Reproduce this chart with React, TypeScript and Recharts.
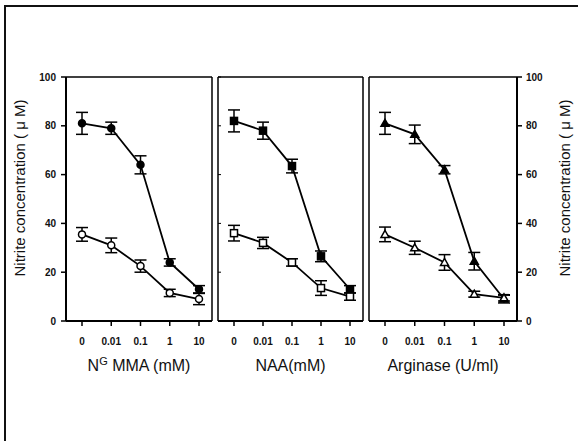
import React from 'react';
import { LineChart, Line, XAxis, YAxis, ErrorBar, Label } from 'recharts';

const doses = ['0', '0.01', '0.1', '1', '10'];
const yTicks = [0, 20, 40, 60, 80, 100];

// N(G)MMA panel
const ngmmaStim = [81, 79, 64, 24, 13];
const ngmmaStimErr = [4.5, 2.5, 3.7, 1.5, 1.5];
const ngmmaBase = [35.5, 31, 22.5, 11.5, 9];
const ngmmaBaseErr = [2.8, 3, 2.5, 1.5, 2.3];

// NAA panel
const naaStim = [82, 78, 63.5, 26.5, 13];
const naaStimErr = [4.5, 3.5, 2.8, 2.2, 1.5];
const naaBase = [36, 32, 24, 13.5, 10];
const naaBaseErr = [3.2, 2.3, 1.5, 3, 1.5];

// Arginase panel
const argStim = [81, 76.5, 62, 24.5, 9];
const argStimErr = [4.5, 3.8, 1.7, 3.6, 1.6];
const argBase = [35.5, 30, 24, 11, 9.5];
const argBaseErr = [3, 2.7, 3.2, 1.2, 1.3];

const yTitle = 'Nitrite concentration ( \u03bc M)';
const font = '"Liberation Sans", Arial, Helvetica, sans-serif';

const build = (stim: number[], stimErr: number[], base: number[], baseErr: number[]) =>
  doses.map((dose, i) => ({ dose, stim: stim[i], stimErr: stimErr[i], base: base[i], baseErr: baseErr[i] }));

type Shape = 'circle' | 'square' | 'triangle';

const Marker = ({ cx, cy, shape, filled }: { cx: number; cy: number; shape: Shape; filled: boolean }) => {
  const fill = filled ? '#000' : '#fff';
  if (shape === 'circle') return <circle cx={cx} cy={cy} r={3.5} fill={fill} stroke="#000" strokeWidth={1.5} />;
  if (shape === 'square')
    return <rect x={cx - 3.5} y={cy - 3.5} width={7} height={7} fill={fill} stroke="#000" strokeWidth={1.5} />;
  return (
    <polygon
      points={`${cx},${cy - 4} ${cx + 4},${cy + 3} ${cx - 4},${cy + 3}`}
      fill={fill}
      stroke="#000"
      strokeWidth={1.5}
    />
  );
};

const titleContent = (main: string, sup: string, rest: string) => (props: any) => {
  const vb = props.viewBox || {};
  const cx = vb.x + vb.width / 2;
  return (
    <text x={cx} y={vb.y + 50} textAnchor="middle" fontSize={16} fontFamily={font} fill="#111">
      <tspan>{main}</tspan>
      {sup ? (
        <tspan dy={-6} fontSize={11}>
          {sup}
        </tspan>
      ) : null}
      <tspan dy={sup ? 6 : 0}>{rest}</tspan>
    </text>
  );
};

// vertical axis title, centred a little above the middle of the plot
const yTitleContent = (side: 'left' | 'right') => (props: any) => {
  const vb = props.viewBox || {};
  const x = side === 'left' ? vb.x + 11 : vb.x + vb.width - 14;
  const y = vb.y + vb.height / 2 - 11;
  return (
    <text
      x={x}
      y={y}
      transform={`rotate(-90 ${x} ${y})`}
      textAnchor="middle"
      dominantBaseline="central"
      fontSize={15}
      fontFamily={font}
      fill="#111"
    >
      {yTitle}
    </text>
  );
};

interface PanelProps {
  left: number;
  width: number;
  margin: { top: number; right: number; bottom: number; left: number };
  data: ReturnType<typeof build>;
  shape: Shape;
  leftMode: 'axis' | 'frame' | 'frameTicks';
  rightMode: 'axis' | 'frame';
  leftWidth: number;
  rightWidth: number;
  title: [string, string, string];
}

const tickStyle = { fontSize: 10, fontWeight: 700, fill: '#111', fontFamily: font };
const pad = { left: 16, right: 13 };
const blank = () => '';

const Panel = ({ left, width, margin, data, shape, leftMode, rightMode, leftWidth, rightWidth, title }: PanelProps) => (
  <div style={{ position: 'absolute', left, top: 0 }}>
    <LineChart width={width} height={441} data={data} margin={margin}>
      <XAxis
        dataKey="dose"
        interval={0}
        padding={pad}
        height={60}
        tickSize={5}
        tickMargin={12}
        tick={tickStyle}
        axisLine={{ stroke: '#000', strokeWidth: 2 }}
        tickLine={{ stroke: '#000', strokeWidth: 1.5 }}
      >
        <Label content={titleContent(title[0], title[1], title[2])} />
      </XAxis>
      <XAxis
        xAxisId="top"
        orientation="top"
        dataKey="dose"
        interval={0}
        padding={pad}
        height={1}
        tickFormatter={blank}
        tickLine={false}
        axisLine={{ stroke: '#000', strokeWidth: 1.5 }}
      />
      {leftMode === 'axis' ? (
        <YAxis
          domain={[0, 100]}
          ticks={yTicks}
          width={leftWidth}
          tickSize={5}
          tickMargin={5}
          tick={tickStyle}
          axisLine={{ stroke: '#000', strokeWidth: 2 }}
          tickLine={{ stroke: '#000', strokeWidth: 1.5 }}
        >
          <Label content={yTitleContent('left')} />
        </YAxis>
      ) : (
        <YAxis
          domain={[0, 100]}
          ticks={yTicks}
          width={1}
          mirror
          tickSize={leftMode === 'frameTicks' ? 3 : 0}
          tickFormatter={blank}
          axisLine={{ stroke: '#000', strokeWidth: 1.5 }}
          tickLine={leftMode === 'frameTicks' ? { stroke: '#000', strokeWidth: 1 } : false}
        />
      )}
      {rightMode === 'axis' ? (
        <YAxis
          yAxisId="r"
          orientation="right"
          domain={[0, 100]}
          ticks={yTicks}
          width={rightWidth}
          tickSize={5}
          tickMargin={4}
          tick={tickStyle}
          axisLine={{ stroke: '#000', strokeWidth: 2 }}
          tickLine={{ stroke: '#000', strokeWidth: 1.5 }}
        >
          <Label content={yTitleContent('right')} />
        </YAxis>
      ) : (
        <YAxis
          yAxisId="r"
          orientation="right"
          domain={[0, 100]}
          ticks={yTicks}
          width={1}
          tickFormatter={blank}
          tickLine={false}
          axisLine={{ stroke: '#000', strokeWidth: 1.5 }}
        />
      )}
      <Line
        dataKey="stim"
        stroke="#000"
        strokeWidth={1.8}
        isAnimationActive={false}
        dot={(p: any) => <Marker key={`s${p.index}`} cx={p.cx} cy={p.cy} shape={shape} filled />}
      >
        <ErrorBar dataKey="stimErr" width={6} stroke="#000" strokeWidth={1.5} direction="y" />
      </Line>
      <Line
        dataKey="base"
        xAxisId="top"
        yAxisId="r"
        stroke="#000"
        strokeWidth={1.8}
        isAnimationActive={false}
        dot={(p: any) => <Marker key={`b${p.index}`} cx={p.cx} cy={p.cy} shape={shape} filled={false} />}
      >
        <ErrorBar dataKey="baseErr" width={6} stroke="#000" strokeWidth={1.5} direction="y" />
      </Line>
    </LineChart>
  </div>
);

export default function App() {
  return (
    <div style={{ position: 'absolute', left: 0, top: 0, width: 578, height: 441, background: '#fff', overflow: 'hidden' }}>
      <div style={{ position: 'absolute', left: 4, top: 5, width: 574, height: 2, background: '#111', zIndex: 2 }} />
      <div style={{ position: 'absolute', left: 4, top: 5, width: 2, height: 436, background: '#111', zIndex: 2 }} />
      <Panel
        left={0}
        width={214}
        margin={{ top: 76, right: 1, bottom: 60, left: 8 }}
        data={build(ngmmaStim, ngmmaStimErr, ngmmaBase, ngmmaBaseErr)}
        shape="circle"
        leftMode="axis"
        rightMode="frame"
        leftWidth={58}
        rightWidth={1}
        title={['N', 'G', ' MMA (mM)']}
      />
      <Panel
        left={214}
        width={152}
        margin={{ top: 76, right: 2, bottom: 60, left: 4 }}
        data={build(naaStim, naaStimErr, naaBase, naaBaseErr)}
        shape="square"
        leftMode="frameTicks"
        rightMode="frame"
        leftWidth={1}
        rightWidth={1}
        title={['NAA(mM)', '', '']}
      />
      <Panel
        left={366}
        width={212}
        margin={{ top: 76, right: 0, bottom: 60, left: 3 }}
        data={build(argStim, argStimErr, argBase, argBaseErr)}
        shape="triangle"
        leftMode="frame"
        rightMode="axis"
        leftWidth={1}
        rightWidth={61}
        title={['Arginase (U/ml)', '', '']}
      />
    </div>
  );
}
